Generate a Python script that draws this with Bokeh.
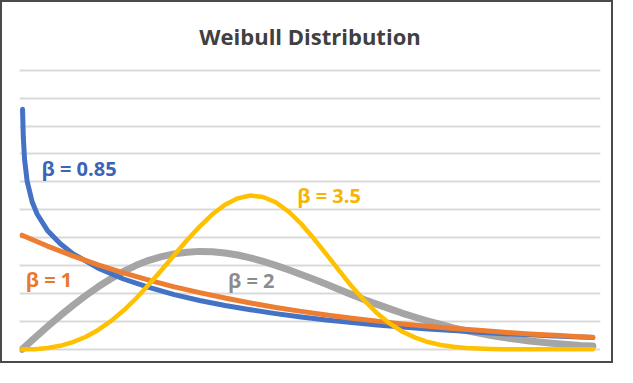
from bokeh.plotting import figure
from bokeh.models import Range1d, FixedTicker, ColumnDataSource
from bokeh.core.properties import value
from bokeh.embed import file_html
from bokeh.resources import INLINE

# x in units of 0.1 * scale parameter
x_vals = [0.0, 0.5, 1, 1.5, 2, 2.5, 3, 3.5, 4, 4.5, 5, 5.5, 6, 6.5, 7, 7.5, 8, 8.5, 9, 9.5,
          10, 10.5, 11, 11.5, 12, 12.5, 13, 13.5, 14, 14.5, 15, 15.5, 16, 16.5, 17, 17.5,
          18, 18.5, 19, 19.5, 20, 21, 22, 22.5]

# beta = 0.85 (needs a few extra points near zero)
x_b085 = [0.02, 0.05, 0.1, 0.2, 0.4, 0.6, 1.0, 1.5, 2, 3, 4, 5, 6, 7, 8, 9, 10, 11, 12, 13, 14, 15,
          16, 17, 18, 19, 20, 21, 22, 22.5]
y_b085 = [8.6, 7.61, 6.80, 6.03, 5.28, 4.84, 4.26, 3.79, 3.43, 2.91, 2.52, 2.22, 1.96, 1.75, 1.57,
          1.42, 1.28, 1.16, 1.05, 0.96, 0.87, 0.80, 0.73, 0.67, 0.61, 0.56, 0.52, 0.48, 0.44, 0.42]

x_b1 = [0.0, 1, 2, 3, 4, 5, 6, 7, 8, 9, 10, 11, 12, 13, 14, 15, 16, 17, 18, 19, 20, 21, 22, 22.5]
y_b1 = [4.09, 3.70, 3.35, 3.03, 2.74, 2.48, 2.24, 2.03, 1.84, 1.66, 1.50, 1.36, 1.23, 1.11, 1.01,
        0.91, 0.83, 0.75, 0.68, 0.61, 0.55, 0.50, 0.45, 0.43]

y_b2 = [0.0, 0.41, 0.81, 1.20, 1.57, 1.92, 2.24, 2.53, 2.79, 3.01, 3.19, 3.32, 3.42, 3.48, 3.51,
        3.50, 3.45, 3.38, 3.28, 3.15, 3.01, 2.85, 2.68, 2.51, 2.33, 2.14, 1.96, 1.78, 1.61, 1.45,
        1.29, 1.15, 1.01, 0.89, 0.77, 0.67, 0.58, 0.49, 0.42, 0.36, 0.30, 0.21, 0.14, 0.12]
y_b35 = [0.0, 0.006, 0.045, 0.125, 0.255, 0.44, 0.695, 1.01, 1.39, 1.83, 2.32, 2.84, 3.38, 3.91,
         4.40, 4.84, 5.18, 5.41, 5.51, 5.46, 5.27, 4.94, 4.50, 3.97, 3.40, 2.82, 2.25, 1.74, 1.29,
         0.92, 0.63, 0.42, 0.26, 0.156, 0.089, 0.048, 0.025, 0.012, 0.006, 0.002, 0.0, 0.0, 0.0, 0.0]

labels = ["β = 0.85", "β = 1", "β = 2", "β = 3.5"]
grid_ticks = [0, 1, 2, 3, 4, 5, 6, 7, 8, 9, 10]

BLUE, ORANGE, GRAY, YELLOW = "#4472c4", "#ed7d31", "#a5a5a5", "#ffc000"

p = figure(width=613, height=363, output_backend="svg", toolbar_location=None,
           x_range=Range1d(-0.1, 22.8), y_range=Range1d(-0.15, 10.1),
           min_border_left=17, min_border_right=15, min_border_top=65, min_border_bottom=12,
           title="Weibull Distribution")
p.styles = {"border": "2px solid #4a4a4a"}
p.outline_line_color = None
p.background_fill_color = "white"
p.border_fill_color = "white"

p.title.align = "center"
p.title.vertical_align = "top"
p.title.text_font = "Open Sans"
p.title.text_font_size = "22px"
p.title.text_font_style = "bold"
p.title.text_color = "#404040"
p.title.standoff = 29

p.xaxis.visible = False
p.yaxis.visible = False
p.xgrid.visible = False
p.yaxis.ticker = FixedTicker(ticks=grid_ticks)
p.ygrid.ticker = FixedTicker(ticks=grid_ticks)
p.ygrid.grid_line_color = "#d9d9d9"
p.ygrid.grid_line_width = 2

p.line(x_vals, y_b2, line_color=GRAY, line_width=7, line_cap="round", line_join="round")
p.line(x_b085, y_b085, line_color=BLUE, line_width=5, line_cap="round", line_join="round")
p.line(x_b1, y_b1, line_color=ORANGE, line_width=5, line_cap="round", line_join="round")
p.line(x_vals, y_b35, line_color=YELLOW, line_width=4.5, line_cap="round", line_join="round")

label_x = [0.77, 0.15, 8.12, 10.85]
label_y = [6.49, 2.51, 2.47, 5.53]
label_colors = ["#3b64b9", "#e8782f", "#8c8c8c", "#f5b400"]
src = ColumnDataSource(dict(x=label_x, y=label_y, text=labels, color=label_colors))
p.text(x="x", y="y", text="text", source=src, text_color="color",
       text_font=value("Open Sans"), text_font_size="20px", text_font_style="bold",
       text_align="left", text_baseline="middle")

open("out.html", "w").write(file_html(p, INLINE))
